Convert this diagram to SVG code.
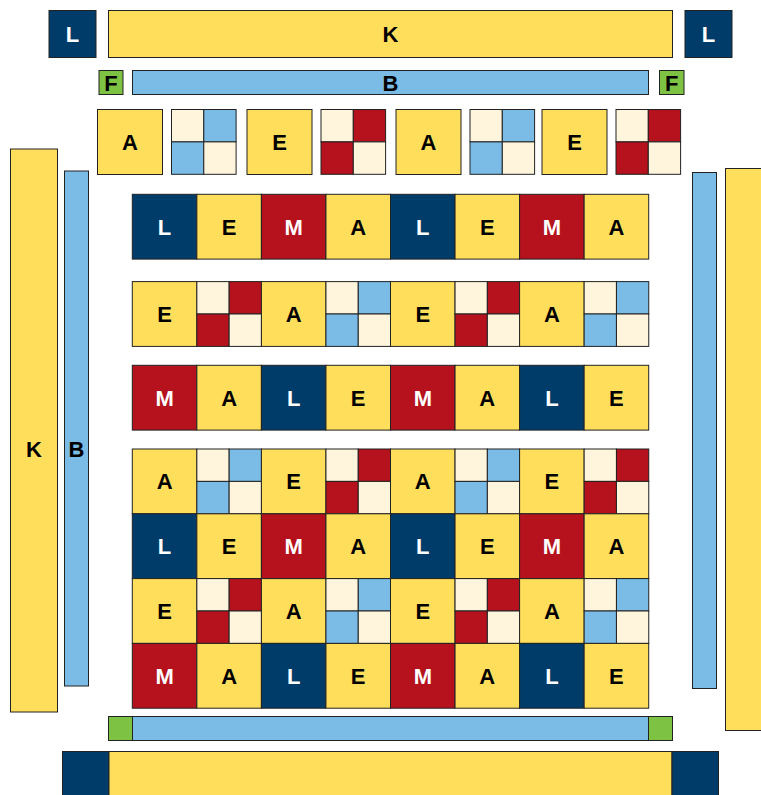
<svg xmlns="http://www.w3.org/2000/svg" xmlns:xlink="http://www.w3.org/1999/xlink" width="761" height="795" viewBox="0 0 761 795">
<style>
rect{stroke:#222;stroke-width:1}
.y{fill:#FFDE5C}.n{fill:#003C6A}.r{fill:#B5121E}.b{fill:#7BBCE7}.c{fill:#FFF5DC}.g{fill:#7DC242}
text{font-family:"Liberation Sans",Arial,sans-serif;font-weight:bold;font-size:22px;text-anchor:middle}
.k{fill:#000}.w{fill:#fff}
</style>
<defs>
<g id="qb"><rect class="c" x="0" y="0" width="32.3" height="32.4"/><rect class="b" x="32.3" y="0" width="32.3" height="32.4"/><rect class="b" x="0" y="32.4" width="32.3" height="32.4"/><rect class="c" x="32.3" y="32.4" width="32.3" height="32.4"/></g>
<g id="qr"><rect class="c" x="0" y="0" width="32.3" height="32.4"/><rect class="r" x="32.3" y="0" width="32.3" height="32.4"/><rect class="r" x="0" y="32.4" width="32.3" height="32.4"/><rect class="c" x="32.3" y="32.4" width="32.3" height="32.4"/></g>
</defs>
<g id="top">
<g id="top-L1"><rect class="n" x="49" y="10.5" width="47" height="47"/><text class="w" x="72.5" y="41.8">L</text></g>
<g id="top-K"><rect class="y" x="108.5" y="10.5" width="564" height="47"/><text class="k" x="390.5" y="41.8">K</text></g>
<g id="top-L2"><rect class="n" x="685" y="10.5" width="47" height="47"/><text class="w" x="708.5" y="41.8">L</text></g>
<g id="top-F1"><rect class="g" x="99" y="70.5" width="24" height="24"/><text class="k" x="111" y="90.5">F</text></g>
<g id="top-B"><rect class="b" x="132.5" y="70.5" width="516" height="24"/><text class="k" x="390.5" y="90.5">B</text></g>
<g id="top-F2"><rect class="g" x="659.5" y="70.5" width="24.5" height="24"/><text class="k" x="671.7" y="90.5">F</text></g>
</g>
<g id="tiles">
<g id="t1"><rect class="y" x="97.5" y="109.5" width="65" height="65"/><text class="k" x="130" y="149.8">A</text></g>
<g id="t2"><use xlink:href="#qb" x="171.5" y="109.5"/></g>
<g id="t3"><rect class="y" x="247" y="109.5" width="65" height="65"/><text class="k" x="279.5" y="149.8">E</text></g>
<g id="t4"><use xlink:href="#qr" x="321" y="109.5"/></g>
<g id="t5"><rect class="y" x="396" y="109.5" width="65" height="65"/><text class="k" x="428.5" y="149.8">A</text></g>
<g id="t6"><use xlink:href="#qb" x="470" y="109.5"/></g>
<g id="t7"><rect class="y" x="542" y="109.5" width="65" height="65"/><text class="k" x="574.5" y="149.8">E</text></g>
<g id="t8"><use xlink:href="#qr" x="616" y="109.5"/></g>
</g>
<g id="sides">
<g id="left-K"><rect class="y" x="10.5" y="149" width="47" height="563"/><text class="k" x="34" y="456.8">K</text></g>
<g id="left-B"><rect class="b" x="64.5" y="171" width="24" height="515"/><text class="k" x="76.5" y="456.8">B</text></g>
<g id="right-B"><rect class="b" x="692.5" y="172.5" width="24" height="516"/></g>
<g id="right-K"><rect class="y" x="725.5" y="168.5" width="50" height="562"/></g>
</g>
<g id="grid">
<g id="r1">
<g><rect class="n" x="132.3" y="194.3" width="64.55" height="64.8"/><text class="w" x="164.6" y="234.5">L</text></g>
<g><rect class="y" x="196.85" y="194.3" width="64.55" height="64.8"/><text class="k" x="229.1" y="234.5">E</text></g>
<g><rect class="r" x="261.4" y="194.3" width="64.55" height="64.8"/><text class="w" x="293.7" y="234.5">M</text></g>
<g><rect class="y" x="325.95" y="194.3" width="64.55" height="64.8"/><text class="k" x="358.2" y="234.5">A</text></g>
<g><rect class="n" x="390.5" y="194.3" width="64.55" height="64.8"/><text class="w" x="422.8" y="234.5">L</text></g>
<g><rect class="y" x="455.05" y="194.3" width="64.55" height="64.8"/><text class="k" x="487.3" y="234.5">E</text></g>
<g><rect class="r" x="519.6" y="194.3" width="64.55" height="64.8"/><text class="w" x="551.9" y="234.5">M</text></g>
<g><rect class="y" x="584.15" y="194.3" width="64.55" height="64.8"/><text class="k" x="616.4" y="234.5">A</text></g>
</g>
<g id="r2">
<g><rect class="y" x="132.3" y="281.6" width="64.55" height="64.8"/><text class="k" x="164.6" y="321.8">E</text></g>
<g><use xlink:href="#qr" x="196.85" y="281.6"/></g>
<g><rect class="y" x="261.4" y="281.6" width="64.55" height="64.8"/><text class="k" x="293.7" y="321.8">A</text></g>
<g><use xlink:href="#qb" x="325.95" y="281.6"/></g>
<g><rect class="y" x="390.5" y="281.6" width="64.55" height="64.8"/><text class="k" x="422.8" y="321.8">E</text></g>
<g><use xlink:href="#qr" x="455.05" y="281.6"/></g>
<g><rect class="y" x="519.6" y="281.6" width="64.55" height="64.8"/><text class="k" x="551.9" y="321.8">A</text></g>
<g><use xlink:href="#qb" x="584.15" y="281.6"/></g>
</g>
<g id="r3">
<g><rect class="r" x="132.3" y="365.3" width="64.55" height="64.8"/><text class="w" x="164.6" y="405.5">M</text></g>
<g><rect class="y" x="196.85" y="365.3" width="64.55" height="64.8"/><text class="k" x="229.1" y="405.5">A</text></g>
<g><rect class="n" x="261.4" y="365.3" width="64.55" height="64.8"/><text class="w" x="293.7" y="405.5">L</text></g>
<g><rect class="y" x="325.95" y="365.3" width="64.55" height="64.8"/><text class="k" x="358.2" y="405.5">E</text></g>
<g><rect class="r" x="390.5" y="365.3" width="64.55" height="64.8"/><text class="w" x="422.8" y="405.5">M</text></g>
<g><rect class="y" x="455.05" y="365.3" width="64.55" height="64.8"/><text class="k" x="487.3" y="405.5">A</text></g>
<g><rect class="n" x="519.6" y="365.3" width="64.55" height="64.8"/><text class="w" x="551.9" y="405.5">L</text></g>
<g><rect class="y" x="584.15" y="365.3" width="64.55" height="64.8"/><text class="k" x="616.4" y="405.5">E</text></g>
</g>
<g id="r4">
<g><rect class="y" x="132.3" y="449" width="64.55" height="64.8"/><text class="k" x="164.6" y="489.2">A</text></g>
<g><use xlink:href="#qb" x="196.85" y="449"/></g>
<g><rect class="y" x="261.4" y="449" width="64.55" height="64.8"/><text class="k" x="293.7" y="489.2">E</text></g>
<g><use xlink:href="#qr" x="325.95" y="449"/></g>
<g><rect class="y" x="390.5" y="449" width="64.55" height="64.8"/><text class="k" x="422.8" y="489.2">A</text></g>
<g><use xlink:href="#qb" x="455.05" y="449"/></g>
<g><rect class="y" x="519.6" y="449" width="64.55" height="64.8"/><text class="k" x="551.9" y="489.2">E</text></g>
<g><use xlink:href="#qr" x="584.15" y="449"/></g>
</g>
<g id="r5">
<g><rect class="n" x="132.3" y="513.8" width="64.55" height="64.8"/><text class="w" x="164.6" y="554">L</text></g>
<g><rect class="y" x="196.85" y="513.8" width="64.55" height="64.8"/><text class="k" x="229.1" y="554">E</text></g>
<g><rect class="r" x="261.4" y="513.8" width="64.55" height="64.8"/><text class="w" x="293.7" y="554">M</text></g>
<g><rect class="y" x="325.95" y="513.8" width="64.55" height="64.8"/><text class="k" x="358.2" y="554">A</text></g>
<g><rect class="n" x="390.5" y="513.8" width="64.55" height="64.8"/><text class="w" x="422.8" y="554">L</text></g>
<g><rect class="y" x="455.05" y="513.8" width="64.55" height="64.8"/><text class="k" x="487.3" y="554">E</text></g>
<g><rect class="r" x="519.6" y="513.8" width="64.55" height="64.8"/><text class="w" x="551.9" y="554">M</text></g>
<g><rect class="y" x="584.15" y="513.8" width="64.55" height="64.8"/><text class="k" x="616.4" y="554">A</text></g>
</g>
<g id="r6">
<g><rect class="y" x="132.3" y="578.6" width="64.55" height="64.8"/><text class="k" x="164.6" y="618.8">E</text></g>
<g><use xlink:href="#qr" x="196.85" y="578.6"/></g>
<g><rect class="y" x="261.4" y="578.6" width="64.55" height="64.8"/><text class="k" x="293.7" y="618.8">A</text></g>
<g><use xlink:href="#qb" x="325.95" y="578.6"/></g>
<g><rect class="y" x="390.5" y="578.6" width="64.55" height="64.8"/><text class="k" x="422.8" y="618.8">E</text></g>
<g><use xlink:href="#qr" x="455.05" y="578.6"/></g>
<g><rect class="y" x="519.6" y="578.6" width="64.55" height="64.8"/><text class="k" x="551.9" y="618.8">A</text></g>
<g><use xlink:href="#qb" x="584.15" y="578.6"/></g>
</g>
<g id="r7">
<g><rect class="r" x="132.3" y="643.4" width="64.55" height="64.8"/><text class="w" x="164.6" y="683.6">M</text></g>
<g><rect class="y" x="196.85" y="643.4" width="64.55" height="64.8"/><text class="k" x="229.1" y="683.6">A</text></g>
<g><rect class="n" x="261.4" y="643.4" width="64.55" height="64.8"/><text class="w" x="293.7" y="683.6">L</text></g>
<g><rect class="y" x="325.95" y="643.4" width="64.55" height="64.8"/><text class="k" x="358.2" y="683.6">E</text></g>
<g><rect class="r" x="390.5" y="643.4" width="64.55" height="64.8"/><text class="w" x="422.8" y="683.6">M</text></g>
<g><rect class="y" x="455.05" y="643.4" width="64.55" height="64.8"/><text class="k" x="487.3" y="683.6">A</text></g>
<g><rect class="n" x="519.6" y="643.4" width="64.55" height="64.8"/><text class="w" x="551.9" y="683.6">L</text></g>
<g><rect class="y" x="584.15" y="643.4" width="64.55" height="64.8"/><text class="k" x="616.4" y="683.6">E</text></g>
</g>
</g>
<g id="bottom">
<g id="bot-G1"><rect class="g" x="108.5" y="716.5" width="24" height="24"/></g>
<g id="bot-B"><rect class="b" x="132.5" y="716.5" width="516" height="24"/></g>
<g id="bot-G2"><rect class="g" x="648.5" y="716.5" width="24" height="24"/></g>
<g id="bot-L1"><rect class="n" x="62.5" y="751.5" width="46.5" height="47"/></g>
<g id="bot-K"><rect class="y" x="109" y="751.5" width="563" height="47"/></g>
<g id="bot-L2"><rect class="n" x="672" y="751.5" width="46.5" height="47"/></g>
</g>
<g id="connectors"/>
</svg>
